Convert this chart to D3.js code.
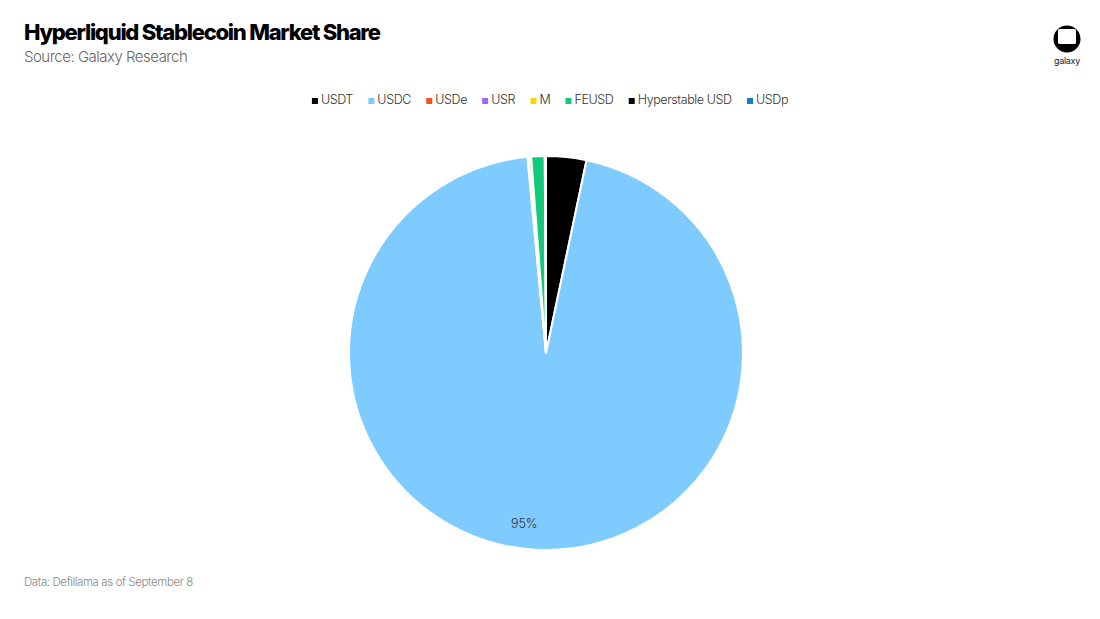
<!DOCTYPE html>
<html><head><meta charset="utf-8">
<script src="https://cdn.jsdelivr.net/npm/d3@7"></script>
<style>body{margin:0;background:#fff;}svg{display:block;font-family:Inter, "Noto Sans", sans-serif;}</style>
</head><body>
<svg id="c" width="1100" height="619"></svg>
<script>
const categories = ["USDT","USDC","USDe","USR","M","FEUSD","Hyperstable USD","USDp"];
const shares = [3.3, 95.2, 0.05, 0.05, 0.2, 1.1, 0.05, 0.05];
const colors = ["#000000","#7dcbff","#f4511e","#9c6bf2","#f7d90c","#12c97c","#000000","#1b79c9"];
const labelText = ["","95%","","","","","",""];

const svg = d3.select("#c");
const W = 1100, H = 619;
svg.append("rect").attr("width",W).attr("height",H).attr("fill","#fff");

svg.append("text").attr("x",24).attr("y",40).text("Hyperliquid Stablecoin Market Share")
  .attr("font-size",22).attr("font-weight",800).attr("letter-spacing","-1.25").attr("fill","#000");
svg.append("text").attr("x",24).attr("y",62).text("Source: Galaxy Research")
  .attr("font-size",15).attr("font-weight",300).attr("letter-spacing","-0.5").attr("fill","#666");
svg.append("text").attr("x",24).attr("y",586).text("Data: Defillama as of September 8")
  .attr("font-size",11.5).attr("font-weight",300).attr("letter-spacing","-0.4").attr("fill","#888");

// logo
const logo = svg.append("g").attr("transform","translate(1067,39)");
logo.append("circle").attr("r",13.5).attr("fill","#000");
logo.append("rect").attr("x",-9).attr("y",-10).attr("width",18).attr("height",15).attr("rx",1.5).attr("fill","#fff");
logo.append("text").attr("y",25).attr("text-anchor","middle").text("galaxy").attr("font-size",9).attr("font-weight",400).attr("fill","#222").attr("letter-spacing","-0.3");

// legend
const color = d3.scaleOrdinal().domain(categories).range(colors);
const lg = svg.append("g");
let xpos = 0;
const items = lg.selectAll("g").data(categories).join("g");
items.append("rect").attr("width",6).attr("height",6).attr("y",-6).attr("fill",d=>color(d));
items.append("text").attr("x",9).attr("font-size",12.5).attr("font-weight",300).attr("letter-spacing","-0.4").attr("fill","#333").text(d=>d);
items.each(function(){
  const g = d3.select(this);
  g.attr("transform",`translate(${xpos},0)`);
  xpos += this.getBBox().width + 15;
});
const totalW = xpos - 15;
lg.attr("transform",`translate(${(W-totalW)/2},104)`);

// pie
const cx = 546, cy = 353, R = 197;
const pie = d3.pie().sort(null).value(d=>d.v);
const data = categories.map((c,i)=>({name:c,v:shares[i],label:labelText[i]}));
const arcs = pie(data);
const arc = d3.arc().innerRadius(0).outerRadius(R);
const g = svg.append("g").attr("transform",`translate(${cx},${cy})`);
g.selectAll("path").data(arcs).join("path").attr("d",arc).attr("fill",d=>color(d.data.name))
  .attr("stroke","#fff").attr("stroke-width",2).attr("stroke-linejoin","round");
const labelArc = d3.arc().innerRadius(R*0.875).outerRadius(R*0.875);
g.selectAll("text.lbl").data(arcs.filter(d=>d.data.label)).join("text").attr("class","lbl")
  .attr("transform",d=>{const p=labelArc.centroid({...d,startAngle:d.startAngle+0.07,endAngle:d.endAngle+0.07});return `translate(${p[0]},${p[1]})`;})
  .attr("text-anchor","middle").attr("dy","0.35em").attr("font-size",12.5).attr("font-weight",300).attr("fill","#333")
  .text(d=>d.data.label);
</script>
</body></html>
